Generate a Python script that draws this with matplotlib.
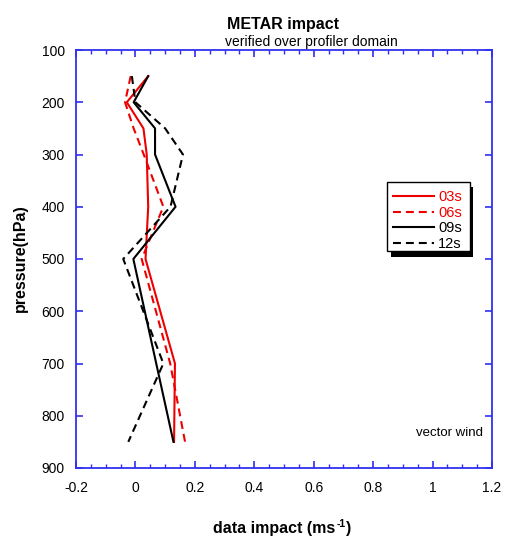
import matplotlib
matplotlib.use("Agg")
import matplotlib.pyplot as plt
from matplotlib.ticker import MultipleLocator
from matplotlib.patches import Rectangle

plt.rcParams['font.family'] = ['Liberation Sans', 'DejaVu Sans']

pressure = [150, 200, 250, 300, 400, 500, 700, 850]
s03 = [0.043, -0.029, 0.027, 0.038, 0.043, 0.034, 0.133, 0.130]
s06 = [-0.016, -0.035, -0.006, 0.028, 0.094, 0.021, 0.117, 0.167]
s09 = [0.043, -0.006, 0.066, 0.066, 0.135, -0.007, 0.070, 0.128]
s12 = [-0.012, 0.000, 0.100, 0.160, 0.118, -0.041, 0.094, -0.024]
series_labels = ['03s', '06s', '09s', '12s']

xticks = [-0.2, 0, 0.2, 0.4, 0.6, 0.8, 1, 1.2]
xticklabels = ['-0.2', '0', '0.2', '0.4', '0.6', '0.8', '1', '1.2']
yticks = [100, 200, 300, 400, 500, 600, 700, 800, 900]

W, H = 506, 551
fig = plt.figure(figsize=(W / 100, H / 100), dpi=100)
ax = fig.add_axes([76 / W, 1 - 468 / H, 416 / W, 418 / H])

red = '#ee0000'
blue = '#3030f0'
dash = (3.8, 2.4)
lw = 1.5
ax.plot(s03, pressure, color=red, lw=lw, label=series_labels[0])
ax.plot(s06, pressure, color=red, lw=lw, dashes=dash, label=series_labels[1])
ax.plot(s09, pressure, color='black', lw=lw, label=series_labels[2])
ax.plot(s12, pressure, color='black', lw=lw, dashes=dash, label=series_labels[3])

ax.set_xlim(-0.2, 1.2)
ax.set_ylim(900, 100)
ax.set_xticks(xticks)
ax.set_xticklabels(xticklabels)
ax.xaxis.set_minor_locator(MultipleLocator(0.05))
ax.set_yticks(yticks)

for sp in ax.spines.values():
    sp.set_color(blue)
    sp.set_linewidth(1.3)
ax.tick_params(axis='both', which='both', direction='in', color=blue,
               top=True, right=True, labelsize=10, labelcolor='black')
ax.tick_params(axis='both', which='major', length=5, width=1.2)
ax.tick_params(axis='both', which='minor', length=3, width=1.0)
ax.tick_params(axis='x', pad=9)
ax.tick_params(axis='y', pad=8)

# legend box with solid shadow (figure pixel coordinates)
def fig_rect(x0, y0, x1, y1, **kw):
    r = Rectangle((x0 / W, 1 - y1 / H), (x1 - x0) / W, (y1 - y0) / H,
                  transform=fig.transFigure, clip_on=False, **kw)
    ax.add_patch(r)
    return r

fig_rect(391, 187, 473, 257, facecolor='black', edgecolor='none', zorder=4)
fig_rect(387.5, 181.5, 469.5, 250.5, facecolor='white', edgecolor='black', lw=1.0, zorder=4.5)

leg = ax.legend(loc='upper left',
                bbox_to_anchor=((393.5 - 76) / 416, (468 - 190) / 418),
                borderaxespad=0, borderpad=0, fontsize=10.5, handlelength=2.8,
                handletextpad=0.27, labelspacing=0.12, frameon=False,
                labelcolor='linecolor')
leg.set_zorder(5)

ax.text((483 - 76) / 416, (468 - 433) / 418, 'vector wind', transform=ax.transAxes,
        ha='right', va='center', fontsize=9.5)

fig.text(283 / W, 1 - 24 / H, 'METAR impact', ha='center', va='center',
         fontsize=11.5, fontweight='bold')
fig.text(311 / W, 1 - 42 / H, 'verified over profiler domain', ha='center', va='center',
         fontsize=10)
fig.text(20 / W, 1 - 258 / H, 'pressure(hPa)', ha='center', va='center', rotation=90,
         fontsize=11.5, fontweight='bold')

# x label with a plain-hyphen superscript
renderer = fig.canvas.get_renderer()
x0 = 213.5
t1 = fig.text(x0 / W, 1 - 533 / H, 'data impact (ms', ha='left', va='baseline',
              fontsize=11.5, fontweight='bold')
w1 = t1.get_window_extent(renderer).width
t2 = fig.text((x0 + w1 + 0.5) / W, 1 - 527 / H, '-1', ha='left', va='baseline',
              fontsize=7.5, fontweight='bold')
w2 = t2.get_window_extent(renderer).width
fig.text((x0 + w1 + w2 + 1) / W, 1 - 533 / H, ')', ha='left', va='baseline',
         fontsize=11.5, fontweight='bold')

fig.savefig('out.png', dpi=100)
